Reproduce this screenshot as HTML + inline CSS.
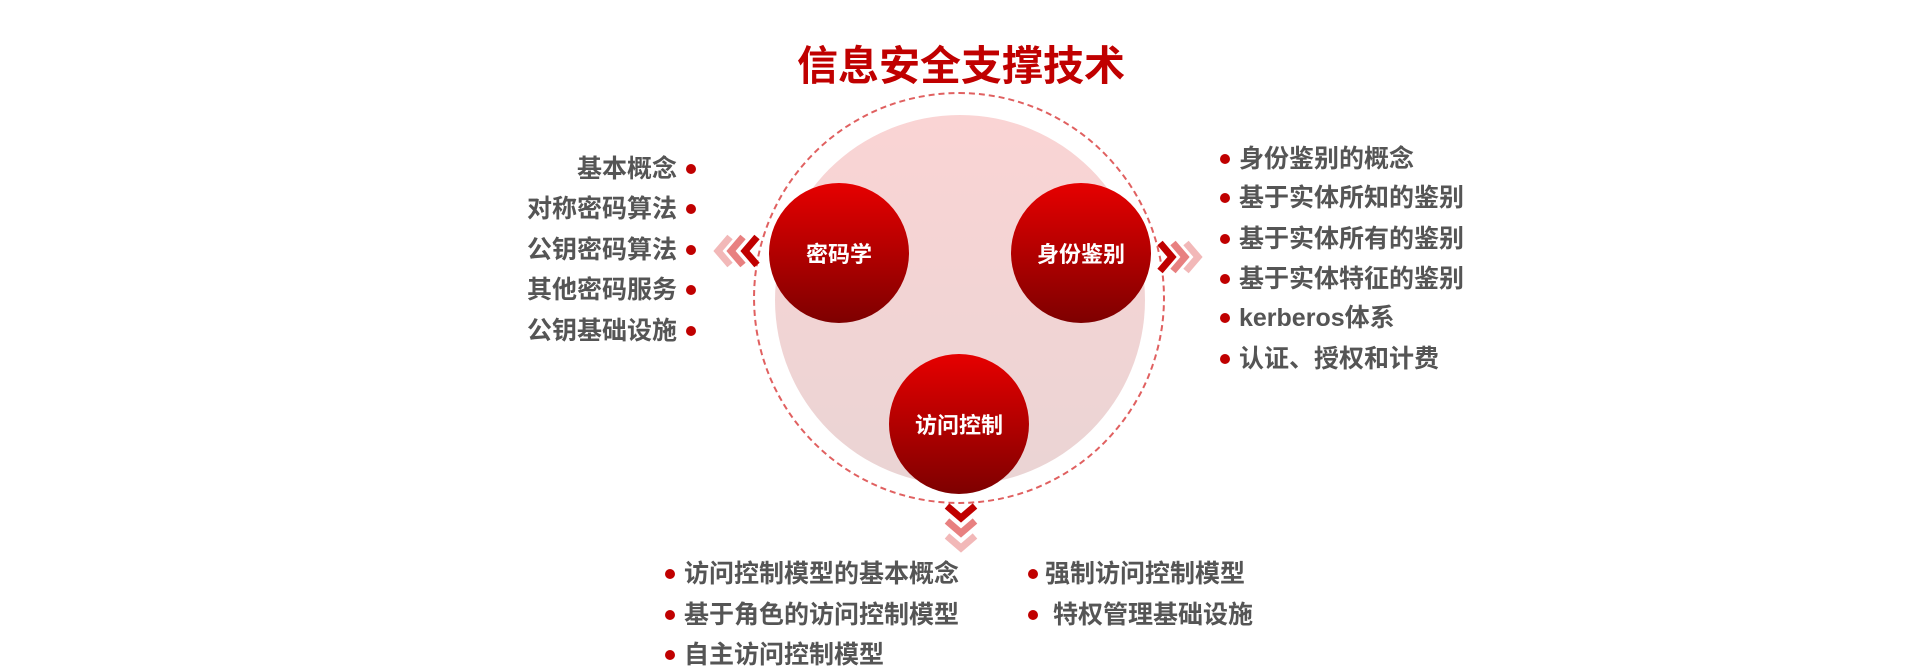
<!DOCTYPE html>
<html><head><meta charset="utf-8"><style>
body{margin:0;width:1920px;height:672px;background:#fff;position:relative;overflow:hidden;font-family:"Liberation Sans","Noto Sans CJK SC",sans-serif}
.t{position:absolute;font-size:25px;color:#555;font-weight:bold;white-space:nowrap;line-height:30px}
.d{position:absolute;width:10px;height:10px;border-radius:50%;background:#c00000}
.c{position:absolute;width:140px;height:140px;border-radius:50%;background:linear-gradient(#e60000,#7e0000);color:#fff;font-size:22px;font-weight:bold;display:flex;align-items:center;justify-content:center}
</style></head><body>
<div style="position:absolute;left:0;width:1922px;top:41px;text-align:center;color:#c00000;font-size:41px;font-weight:bold;line-height:50px">信息安全支撑技术</div>
<div style="position:absolute;left:775px;top:115px;width:370px;height:370px;border-radius:50%;background:linear-gradient(#fad4d4,#ead4d4)"></div>
<div style="position:absolute;left:753px;top:92px;width:412px;height:412px;border-radius:50%;border:2px dashed #e06060;box-sizing:border-box"></div>
<div class="c" style="left:769px;top:183px">密码学</div>
<div class="c" style="left:1011px;top:183px">身份鉴别</div>
<div class="c" style="left:889px;top:354px">访问控制</div>
<svg style="position:absolute;left:0;top:0" width="1920" height="672">
<g fill="none" stroke-width="7">
<polyline points="730,237 718,251 730,265" stroke="#f2b8b8"/>
<polyline points="743,237 731,251 743,265" stroke="#e88080"/>
<polyline points="757,237 745,251 757,265" stroke="#c00000"/>
<polyline points="1160,243 1172,257 1160,271" stroke="#c00000"/>
<polyline points="1173,243 1185,257 1173,271" stroke="#e88080"/>
<polyline points="1186,243 1198,257 1186,271" stroke="#f2b8b8"/>
<polyline points="947,506 961,518 975,506" stroke="#c00000"/>
<polyline points="947,521 961,533 975,521" stroke="#e88080"/>
<polyline points="947,536 961,548 975,536" stroke="#f2b8b8"/>
</g></svg>
<div class="t" style="right:1243px;top:154px">基本概念</div><div class="d" style="left:686px;top:164px"></div>
<div class="t" style="right:1243px;top:194px">对称密码算法</div><div class="d" style="left:686px;top:204px"></div>
<div class="t" style="right:1243px;top:235px">公钥密码算法</div><div class="d" style="left:686px;top:245px"></div>
<div class="t" style="right:1243px;top:275px">其他密码服务</div><div class="d" style="left:686px;top:285px"></div>
<div class="t" style="right:1243px;top:316px">公钥基础设施</div><div class="d" style="left:686px;top:326px"></div>
<div class="d" style="left:1220px;top:154px"></div><div class="t" style="left:1239px;top:144px">身份鉴别的概念</div>
<div class="d" style="left:1220px;top:193px"></div><div class="t" style="left:1239px;top:183px">基于实体所知的鉴别</div>
<div class="d" style="left:1220px;top:234px"></div><div class="t" style="left:1239px;top:224px">基于实体所有的鉴别</div>
<div class="d" style="left:1220px;top:274px"></div><div class="t" style="left:1239px;top:264px">基于实体特征的鉴别</div>
<div class="d" style="left:1220px;top:313px"></div><div class="t" style="left:1239px;top:303px">kerberos体系</div>
<div class="d" style="left:1220px;top:354px"></div><div class="t" style="left:1239px;top:344px">认证、授权和计费</div>
<div class="d" style="left:665px;top:569px"></div><div class="t" style="left:684px;top:559px">访问控制模型的基本概念</div>
<div class="d" style="left:665px;top:610px"></div><div class="t" style="left:684px;top:600px">基于角色的访问控制模型</div>
<div class="d" style="left:665px;top:650px"></div><div class="t" style="left:684px;top:640px">自主访问控制模型</div>
<div class="d" style="left:1028px;top:569px"></div><div class="t" style="left:1045px;top:559px">强制访问控制模型</div>
<div class="d" style="left:1028px;top:610px"></div><div class="t" style="left:1053px;top:600px">特权管理基础设施</div>
</body></html>
